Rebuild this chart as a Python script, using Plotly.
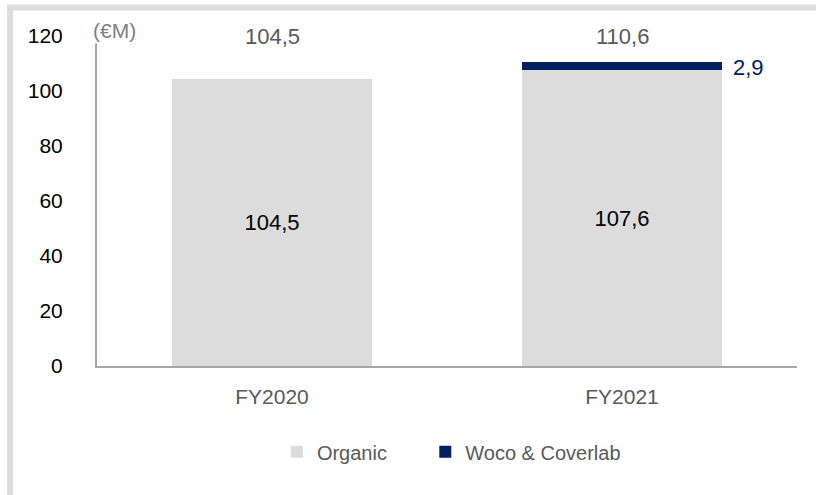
import plotly.graph_objects as go

categories = ["FY2020", "FY2021"]
organic = [104.5, 107.6]
woco = [0.0, 2.9]
totals = [104.5, 110.6]
y_ticks = [0, 20, 40, 60, 80, 100, 120]

ORG_COL = "#DCDCDC"
NAVY = "#002060"
FONT = "Liberation Sans, Arial, sans-serif"

def fmt(v):
    return f"{v:.1f}".replace(".", ",")

fig = go.Figure()
fig.add_trace(go.Bar(
    x=categories, y=organic, name="Organic",
    marker=dict(color=ORG_COL, line=dict(width=0)),
    text=[fmt(v) for v in organic], textposition="inside",
    insidetextanchor="middle",
    textfont=dict(family=FONT, size=22, color="#000000"),
    legend="legend",
))
fig.add_trace(go.Bar(
    x=categories, y=woco, name="Woco & Coverlab",
    marker=dict(color=NAVY, line=dict(width=0)),
    hoverinfo="skip",
    legend="legend2",
))

# totals above bars
for c, t in zip(categories, totals):
    fig.add_annotation(x=c, y=1.0, yref="paper", text=fmt(t), showarrow=False,
                       yanchor="middle", font=dict(family=FONT, size=22, color="#595959"))

# Woco label to the right
for c, o, w in zip(categories, organic, woco):
    if w > 0:
        fig.add_annotation(x=0.905, xref="paper", y=o + w, text=fmt(w), showarrow=False,
                           xanchor="left", yanchor="middle", yshift=-5,
                           font=dict(family=FONT, size=22, color=NAVY))

# unit label
fig.add_annotation(x=-0.008, xref="paper", y=1.017, yref="paper", text="(€M)",
                   showarrow=False, xanchor="left", yanchor="middle",
                   bgcolor="white", font=dict(family=FONT, size=21, color="#7F7F7F"))

# outer frame
fig.add_shape(type="rect", xref="paper", yref="paper",
              x0=-0.1243, x1=1.2, y0=-0.6, y1=1.0864,
              line=dict(color="#DCDCDC", width=6), fillcolor="rgba(0,0,0,0)", layer="below")

leg_font = dict(family=FONT, size=20, color="#595959")
fig.update_layout(
    barmode="stack", bargap=0.43,
    width=816, height=495,
    margin=dict(l=97, r=19, t=36, b=129),
    paper_bgcolor="white", plot_bgcolor="white",
    separators=",.",
    font=dict(family=FONT, size=21, color="#000000"),
    showlegend=True,
    legend=dict(orientation="h", x=0.257, xanchor="left", y=-0.26, yanchor="middle",
                font=leg_font, itemwidth=30, bgcolor="rgba(0,0,0,0)"),
    legend2=dict(orientation="h", x=0.469, xanchor="left", y=-0.26, yanchor="middle",
                 font=leg_font, itemwidth=30, bgcolor="rgba(0,0,0,0)"),
)
fig.update_xaxes(showline=True, linecolor="#A6A6A6", linewidth=2, ticks="",
                 tickfont=dict(family=FONT, size=21, color="#595959"),
                 ticklabelstandoff=11, showgrid=False)
fig.update_yaxes(range=[0, 120], tickvals=y_ticks, showline=True, linecolor="#A6A6A6",
                 linewidth=2, showgrid=False, zeroline=False, ticks="",
                 tickfont=dict(family=FONT, size=21, color="#000000"),
                 ticklabelstandoff=28)

fig.write_html("out.html")
